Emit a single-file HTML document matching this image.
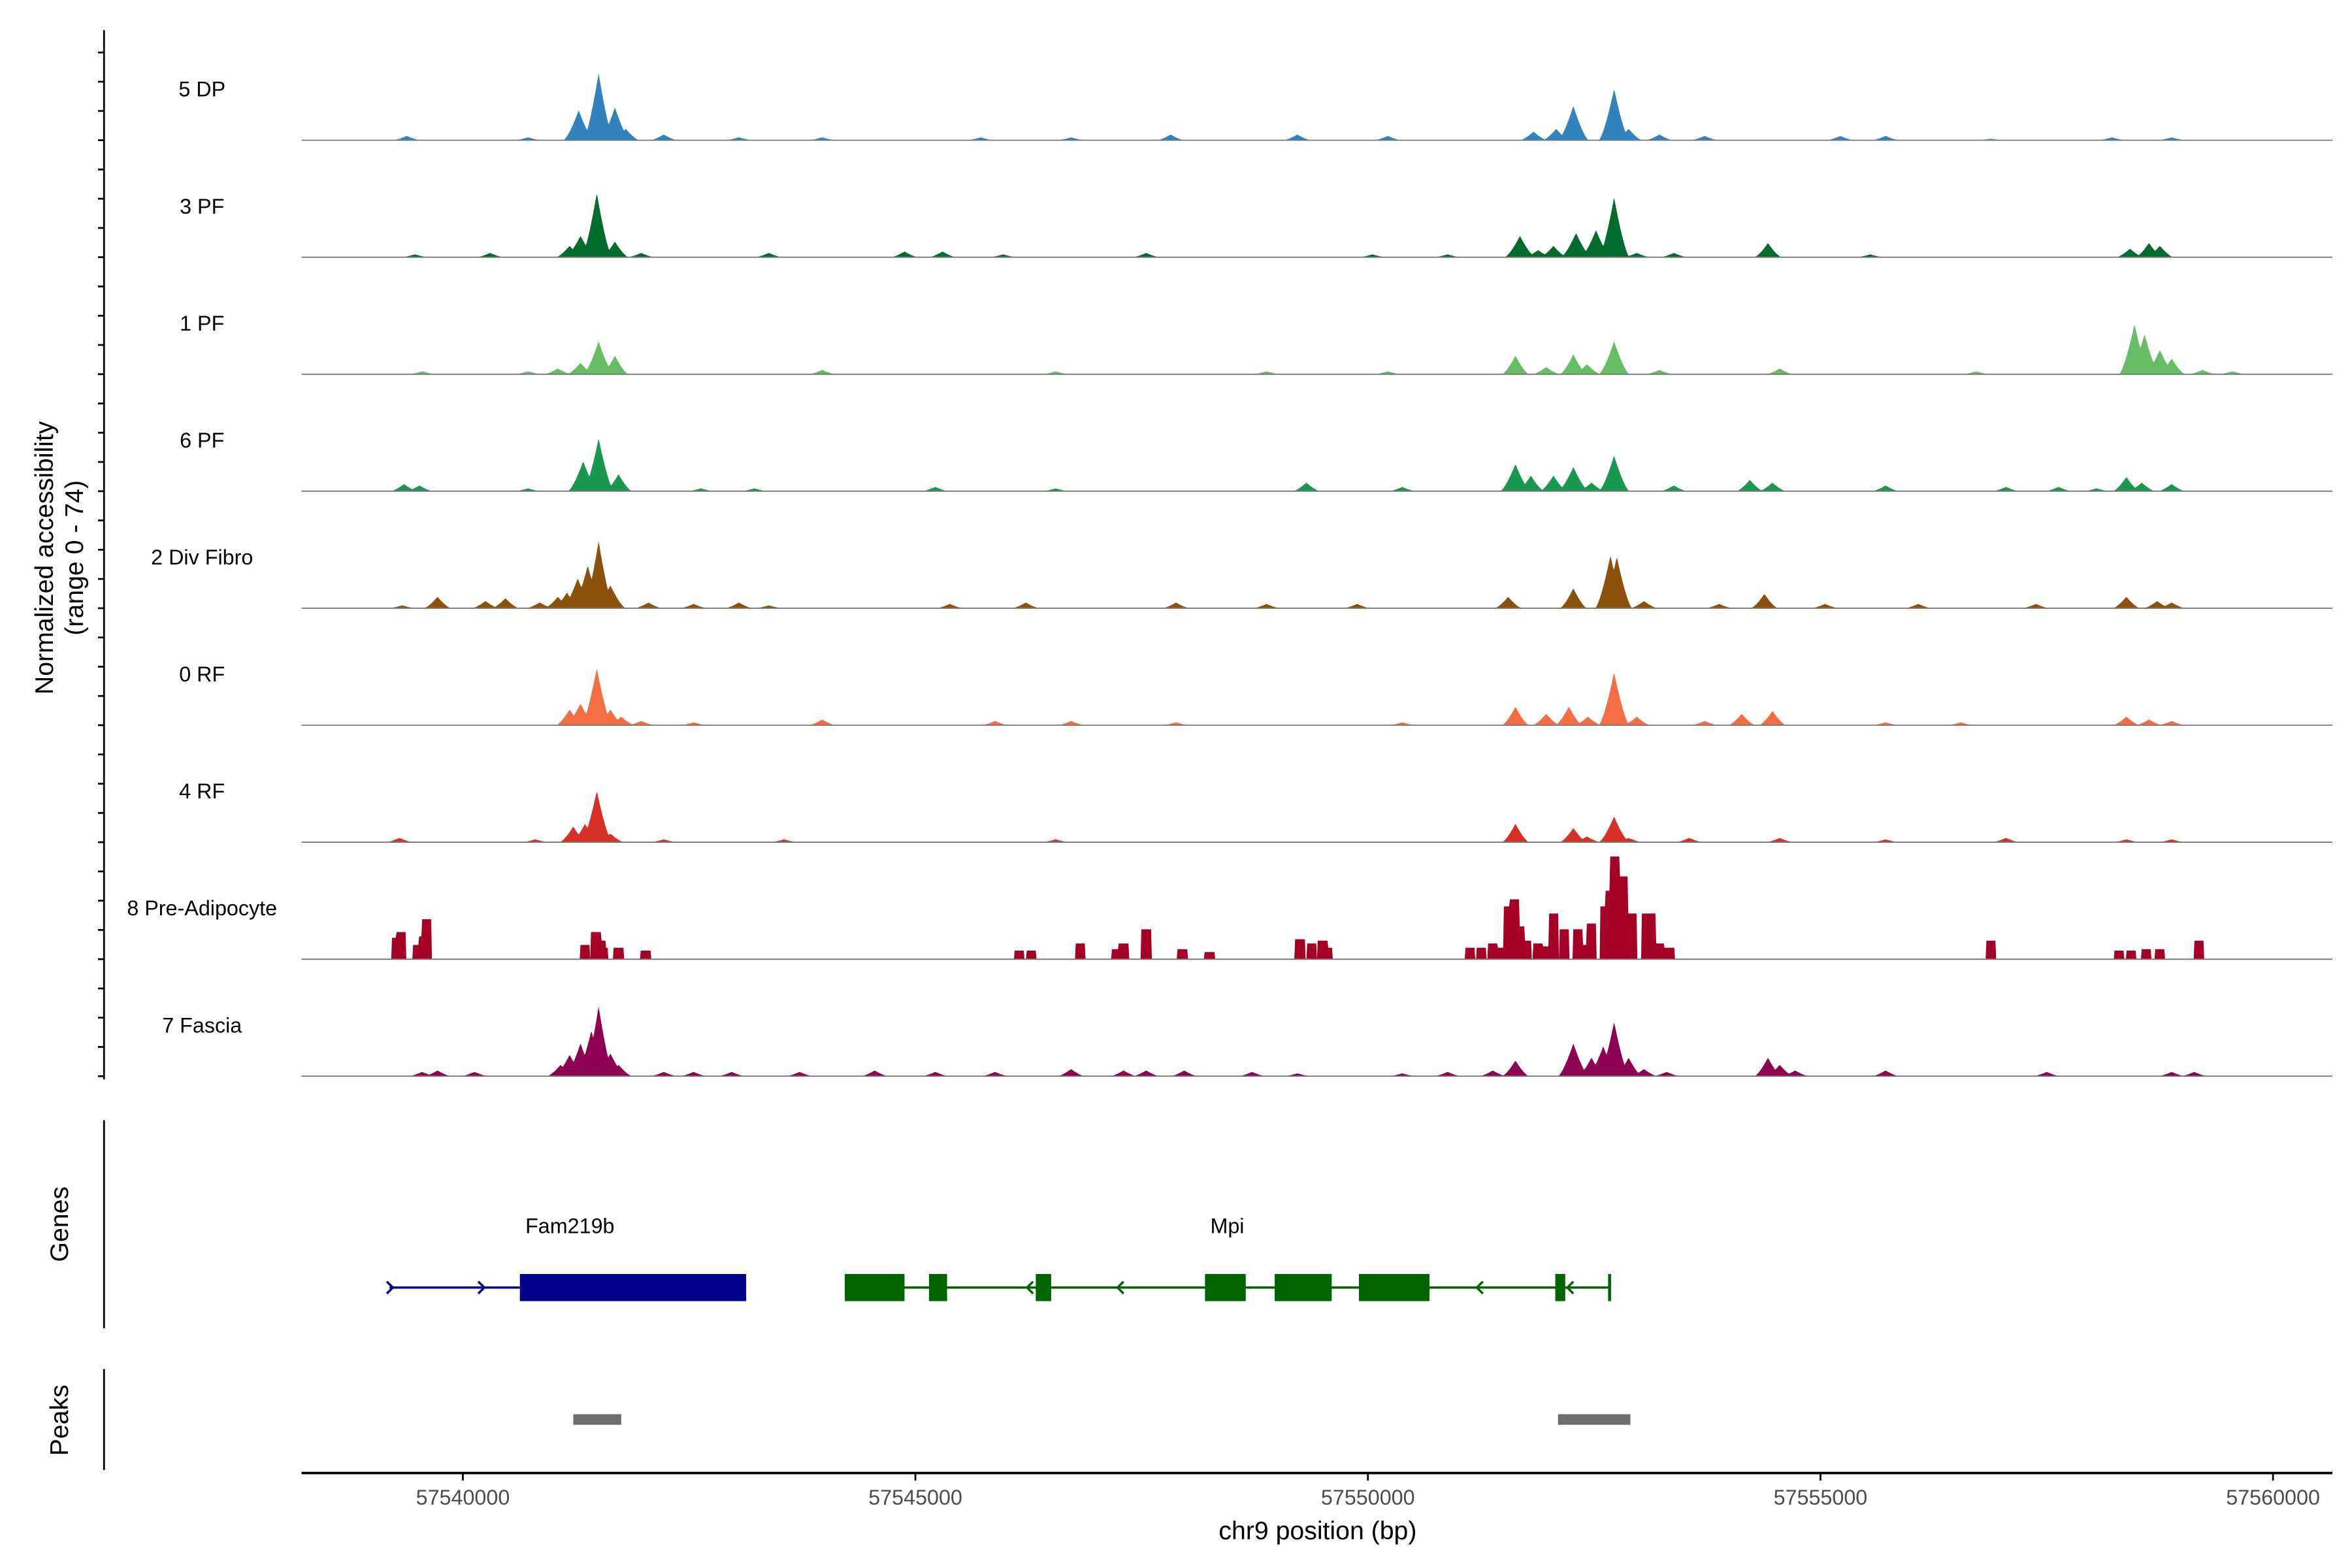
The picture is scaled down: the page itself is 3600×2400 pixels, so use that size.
<!DOCTYPE html>
<html><head><meta charset="utf-8"><style>
html,body{margin:0;padding:0;background:#fff;}
svg{display:block;font-family:"Liberation Sans",sans-serif;}
</style></head><body>
<svg id="chart" width="3600" height="2400" viewBox="0 0 1560 1040" preserveAspectRatio="none" xmlns="http://www.w3.org/2000/svg">
<rect width="1560" height="1040" fill="#fff"/>
<g id="tracks"></g>
<g id="yaxis"><line x1="69" y1="20" x2="69" y2="716" stroke="#000" stroke-width="1.2"/></g>
<text transform="translate(35,370) rotate(-90)" text-anchor="middle" font-size="17">Normalized accessibility</text>
<text transform="translate(55,370) rotate(-90)" text-anchor="middle" font-size="17">(range 0 - 74)</text>
<line x1="69" y1="743" x2="69" y2="881" stroke="#000" stroke-width="1.2"/>
<text transform="translate(45,812) rotate(-90)" text-anchor="middle" font-size="17">Genes</text>
<line x1="69" y1="908" x2="69" y2="975" stroke="#000" stroke-width="1.2"/>
<text transform="translate(45,942) rotate(-90)" text-anchor="middle" font-size="17">Peaks</text>
<g id="genes"></g>
<g id="peaks"></g>
<g id="xaxis"><line x1="200" y1="977" x2="1547" y2="977" stroke="#000" stroke-width="1.6"/></g>
<text x="874" y="1021" text-anchor="middle" font-size="17">chr9 position (bp)</text>
</svg>
<script>
// positions are kb offsets from 57540000, heights in normalized accessibility (0-74)
const trackNames = ["5 DP","3 PF","1 PF","6 PF","2 Div Fibro","0 RF","4 RF","8 Pre-Adipocyte","7 Fascia"];
const trackColors = ["#3182bd","#006d2c","#66bd63","#1a9850","#8c510a","#f46d43","#d73027","#a50026","#8e0152"];
const dpPos = [1.50,1.28,1.68,1.80,-0.62,2.22,12.27,12.72,12.08,11.83,12.88,13.22,7.82,9.22,15.22,5.72,10.22,13.72,3.97,6.72,18.22,18.88,16.88,3.05,0.72,15.72];
const dpVal = [47,21,23,8,3,4,24,36,8,6,8,4,4,4,3,2,3,3,2,2,2,2,1,2,2,3];
const pf3Pos = [1.48,1.30,1.18,1.68,0.30,-0.53,1.97,3.38,4.88,5.30,7.55,11.68,12.05,12.30,12.52,12.72,11.88,12.97,13.38,14.42,15.55,18.42,18.63,18.75,10.05,10.88,5.97];
const pf3Val = [45,15,8,11,3,2,3,3,4,4,3,15,8,17,19,42,5,3,3,10,2,6,10,8,2,2,2];
const pf1Pos = [1.50,1.30,1.68,1.05,0.72,-0.45,3.97,6.55,11.63,11.97,12.27,12.42,12.72,13.22,14.55,18.47,18.58,18.75,18.88,19.22,8.88,10.22,16.72,19.55];
const pf1Val = [23,8,13,4,2,2,3,2,13,5,14,7,23,3,4,35,28,17,11,3,2,2,2,2];
const pf6Pos = [1.50,1.33,1.72,-0.65,-0.48,0.72,3.22,5.22,9.32,11.63,11.80,12.05,12.27,12.47,12.72,13.38,14.22,14.47,15.72,18.38,18.55,18.88,17.05,17.63,10.38,2.63,6.55,18.05];
const pf6Val = [37,21,12,5,4,2,2,3,6,19,11,11,17,6,25,4,8,6,4,10,6,5,3,3,3,2,2,2];
const divPos = [1.50,1.38,1.27,1.15,1.63,1.05,-0.28,-0.67,0.47,0.25,0.85,2.05,2.55,3.05,3.38,5.38,6.22,7.88,8.88,9.88,11.55,12.27,12.68,12.75,13.05,14.38,15.05,16.08,17.38,18.38,18.72,18.88,13.88];
const divVal = [47,30,21,11,16,8,8,2,7,5,4,4,3,4,2,3,4,4,3,3,8,14,37,36,5,10,3,3,3,8,5,4,3];
const rf0Pos = [1.48,1.30,1.18,1.63,1.75,1.97,3.97,5.88,6.72,7.88,10.38,11.63,11.97,12.22,12.43,12.72,12.97,13.72,14.13,14.47,18.38,18.63,18.88,2.55,15.72,16.55];
const rf0Val = [40,15,11,11,6,3,4,3,3,2,2,13,8,13,6,37,6,3,8,10,6,4,3,2,2,2];
const rf4Pos = [1.48,1.35,1.22,1.63,-0.70,0.80,2.22,3.55,6.55,11.63,12.27,12.42,12.72,12.88,13.55,14.55,15.72,17.05,18.38,18.88];
const rf4Val = [36,13,11,6,3,2,2,2,2,13,10,4,18,3,3,3,2,3,2,2];
const preaPos = [-0.68,-0.73,-0.43,-0.40,-0.50,1.35,1.47,1.52,1.55,1.72,2.02,6.15,6.28,6.82,7.22,7.30,7.55,7.95,8.25,9.25,9.38,9.50,9.55,11.13,11.38,11.55,11.62,11.68,11.75,11.88,12.05,12.17,12.32,12.47,12.62,12.68,12.73,12.82,12.92,13.08,13.13,13.22,13.33,16.88,18.30,18.43,18.60,18.75,19.18,11.25,11.45,11.95,12.40];
const preaVal = [19,15,16,28,10,10,19,13,8,8,6,6,6,11,7,11,21,7,5,14,11,13,8,8,11,37,42,23,13,11,32,21,21,25,37,48,72,58,32,32,32,11,8,13,6,6,7,7,13,8,8,9,10];
const fascPos = [1.50,1.42,1.30,1.18,1.08,1.63,1.72,-0.45,-0.28,0.13,2.22,2.55,2.97,3.72,4.55,5.22,5.88,6.72,7.30,7.55,7.97,8.72,9.22,10.38,10.88,11.38,11.63,12.27,12.47,12.60,12.72,12.88,13.05,13.30,14.42,14.55,14.72,15.72,17.50,18.88,19.13];
const fascVal = [49,32,23,15,8,16,8,3,4,3,3,3,3,3,4,3,3,5,4,4,4,3,2,2,3,4,11,23,13,21,38,13,5,3,13,8,4,4,3,3,3];
const xTickKb = [0,5,10,15,20];
const xTickLabels = ["57540000","57545000","57550000","57555000","57560000"];
const fam219bExonsKb = [[0.63,3.13]];
const mpiExonsKb = [[4.22,4.88],[5.15,5.35],[6.33,6.50],[8.20,8.65],[8.97,9.60],[9.90,10.68],[12.07,12.18]];
const peakRegionsKb = [[1.22,1.75],[12.10,12.90]];

const NS="http://www.w3.org/2000/svg";
function mk(tag,attrs,parent){const e=document.createElementNS(NS,tag);for(const k in attrs)e.setAttribute(k,attrs[k]);parent.appendChild(e);return e;}
const X0=307, PXKB=60.03;
function xs(kb){return X0+kb*PXKB;}
const TRACK_H=70, YMAX=74;
function baseOf(i){return 93+i*77.6;}
function ys(v,i){return baseOf(i)-v/YMAX*TRACK_H;}

const posArr=[dpPos,pf3Pos,pf1Pos,pf6Pos,divPos,rf0Pos,rf4Pos,preaPos,fascPos];
const valArr=[dpVal,pf3Val,pf1Val,pf6Val,divVal,rf0Val,rf4Val,preaVal,fascVal];
const tracksG=document.getElementById('tracks');
const yaxis=document.getElementById('yaxis');
for(let t=0;t<9;t++){
  const base=baseOf(t);
  const lab=mk('text',{x:134,y:base-29,'text-anchor':'middle','font-size':14},tracksG);
  lab.textContent=trackNames[t];
  
  
  const pos=posArr[t], val=valArr[t];
  const step = t===7;
  let d='M200,'+base;
  for(let x=200;x<=1547;x+=0.5){
    const kb=(x-X0)/PXKB;
    let v=0;
    for(let k=0;k<pos.length;k++){
      const dist=Math.abs(kb-pos[k]);
      if(step){ if(dist<=0.055) v=Math.max(v,val[k]); }
      else{
        const hw = val[k]>=15?0.17:0.15;
        if(dist<hw){const s=1-dist/hw; v=Math.max(v,val[k]*Math.pow(s,1.4));}
      }
    }
    d+=' L'+x+','+ys(v,t).toFixed(2);
  }
  d+=' L1547,'+base+' Z';
  const p=mk('path',{d:d,fill:trackColors[t]},tracksG);
  
  
  const bl=mk('line',{x1:200,y1:base,x2:1547,y2:base,stroke:'#777','stroke-width':0.8},tracksG);
  
  
}
for(let y=baseOf(8);y>=30;y-=19.4){
  const tk=mk('line',{x1:65,y1:y,x2:69,y2:y,stroke:'#000','stroke-width':1.2},yaxis);
  
  
}
// genes
const gG=document.getElementById('genes');
const GY=854;
mk('line',{x1:xs(-0.81),y1:GY,x2:xs(0.63),y2:GY,stroke:'#00008b','stroke-width':1.5},gG);
[-0.79,0.22].forEach(k=>{const a=mk('path',{d:`M${xs(k)-3},${GY-4} L${xs(k)+1},${GY} L${xs(k)-3},${GY+4}`,fill:'none',stroke:'#00008b','stroke-width':1.5},gG);

});
fam219bExonsKb.forEach(e=>{const r=mk('rect',{x:xs(e[0]),y:GY-9,width:xs(e[1])-xs(e[0]),height:18,fill:'#00008b'},gG);

});
const t1=mk('text',{x:378,y:818,'text-anchor':'middle','font-size':14},gG);t1.textContent='Fam219b';


mk('line',{x1:xs(4.22),y1:GY,x2:xs(12.67),y2:GY,stroke:'#006400','stroke-width':1.5},gG);
mk('line',{x1:xs(12.67),y1:GY-9,x2:xs(12.67),y2:GY+9,stroke:'#006400','stroke-width':2},gG);
[6.25,7.25,11.22,12.22].forEach(k=>{const a=mk('path',{d:`M${xs(k)+3},${GY-4} L${xs(k)-1},${GY} L${xs(k)+3},${GY+4}`,fill:'none',stroke:'#006400','stroke-width':1.5},gG);

});
mpiExonsKb.forEach(e=>{const r=mk('rect',{x:xs(e[0]),y:GY-9,width:xs(e[1])-xs(e[0]),height:18,fill:'#006400'},gG);

});
const t2=mk('text',{x:814,y:818,'text-anchor':'middle','font-size':14},gG);t2.textContent='Mpi';


// peaks
const pG=document.getElementById('peaks');
peakRegionsKb.forEach(e=>{const r=mk('rect',{x:xs(e[0]),y:938,width:xs(e[1])-xs(e[0]),height:7,fill:'#6e6e6e'},pG);

});
// x axis
const xa=document.getElementById('xaxis');
xTickKb.forEach((k,i)=>{
  const tk=mk('line',{x1:xs(k),y1:977,x2:xs(k),y2:982,stroke:'#000','stroke-width':1.2},xa);
  
  
  const tl=mk('text',{x:xs(k),y:998,'text-anchor':'middle','font-size':14,fill:'#4d4d4d'},xa);
  tl.textContent=xTickLabels[i];
  
  
});
</script>
</body></html>
